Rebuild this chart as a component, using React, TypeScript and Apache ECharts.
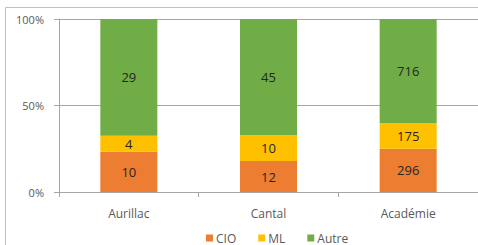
import React, { useEffect, useRef } from "react";
import * as echarts from "echarts";

const categories = ["Aurillac", "Cantal", "Académie"];
const seriesNames = ["CIO", "ML", "Autre"];
const cio = [10, 12, 296];
const ml = [4, 10, 175];
const autre = [29, 45, 716];
const colors = ["#ED7D31", "#FFC000", "#70AD47"];
const yTicks = [0, 50, 100];

export default function App() {
  const ref = useRef<HTMLDivElement>(null);
  useEffect(() => {
    if (!ref.current) return;
    const chart = echarts.init(ref.current, undefined, { renderer: "svg" });
    const raw = [cio, ml, autre];
    const totals = categories.map((_, i) => raw.reduce((s, arr) => s + arr[i], 0));
    const font = "'Open Sans', 'Noto Sans', sans-serif";
    chart.setOption({
      animation: false,
      textStyle: { fontFamily: font },
      grid: { left: 59, right: 0, top: 19, bottom: 53, containLabel: false },
      graphic: [
        {
          type: "rect",
          shape: { x: 5.5, y: 7.5, width: 480, height: 260 },
          style: { fill: "none", stroke: "#BFBFBF", lineWidth: 1 },
          silent: true,
        },
      ],
      legend: {
        top: 232,
        left: 206,
        icon: "rect",
        itemWidth: 7,
        itemHeight: 7,
        itemGap: 22,
        padding: 0,
        textStyle: { color: "#595959", fontSize: 12, fontFamily: font, padding: [0, 0, 0, -2] },
        data: seriesNames,
      },
      xAxis: {
        type: "category",
        data: categories,
        axisLine: { lineStyle: { color: "#A6A6A6" } },
        axisTick: { show: true, length: 5, lineStyle: { color: "#A6A6A6" } },
        axisLabel: { color: "#595959", fontSize: 12, margin: 15, fontFamily: font },
      },
      yAxis: {
        type: "value",
        min: yTicks[0],
        max: yTicks[yTicks.length - 1],
        interval: 50,
        axisLine: { show: true, lineStyle: { color: "#A6A6A6" } },
        axisTick: { show: true, length: 5, lineStyle: { color: "#A6A6A6" } },
        splitLine: { lineStyle: { color: "#A6A6A6" } },
        axisLabel: { color: "#595959", fontSize: 11, margin: 15, formatter: "{value}%", fontFamily: font },
      },
      series: seriesNames.map((name, si) => ({
        name,
        type: "bar",
        stack: "total",
        barWidth: 57,
        itemStyle: { color: colors[si] },
        label: {
          show: true,
          position: "inside",
          color: "#262626",
          fontSize: 13,
          fontFamily: font,
          formatter: (p: any) => String(raw[si][p.dataIndex]),
        },
        data: raw[si].map((v, i) => (v / totals[i]) * 100),
      })),
    });
    return () => chart.dispose();
  }, []);
  return (
    <div
      ref={ref}
      style={{ position: "absolute", left: 0, top: 0, width: 478, height: 245 }}
    />
  );
}
